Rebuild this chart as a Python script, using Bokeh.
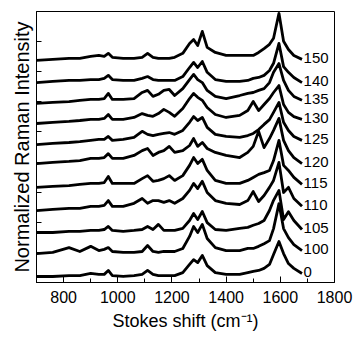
from bokeh.plotting import figure
from bokeh.models import FixedTicker, CustomJSTickFormatter
from bokeh.core.properties import value
from bokeh.embed import file_html
from bokeh.resources import INLINE

# Raman shift grid (cm^-1)
shift = [700, 760, 820, 860, 900, 930, 950, 965, 980, 1020, 1060, 1090, 1110, 1130,
         1150, 1170, 1190, 1210, 1240, 1265, 1280, 1295, 1312, 1330, 1360, 1400,
         1450, 1480, 1500, 1520, 1540, 1560, 1575, 1595, 1612, 1630, 1650, 1680]

labels = ["0", "100", "105", "110", "115", "120", "125", "130", "135", "140", "150"]

s_0 = [.20, .20, .23, .23, .30, .27, .27, .40, .23, .20, .23, .27, .40, .27, .23, .23, .23, .23, .33,
       .60, .76, .66, .90, .56, .33, .27, .27, .33, .37, .40, .47, .60, .93, 1.36, .96, .63, .47, .30]
s_100 = [.24, .28, .44, .31, .48, .34, .38, .44, .31, .28, .28, .31, .51, .31, .28, .31, .31, .31, .41,
         .81, 1.14, .94, 1.21, .74, .44, .34, .34, .41, .41, .48, .57, .67, 1.07, 1.90, 1.07, .77, .54, .34]
s_105 = [.22, .22, .26, .26, .29, .29, .32, .42, .29, .26, .29, .32, .42, .32, .49, .29, .29, .29, .36,
         .62, .85, .65, .92, .55, .32, .29, .36, .39, .46, .52, .62, .95, 1.29, 1.62, .65, .91, .62, .32]
s_110 = [.23, .27, .30, .30, .37, .37, .40, .56, .37, .37, .47, .63, .47, .56, .56, .50, .56, .47, .63,
         .90, 1.13, .96, 1.20, .83, .56, .47, .43, .56, .86, .53, .73, 1.00, 1.23, 1.83, .83, 1.00, .63, .37]
s_115 = [.28, .31, .34, .38, .41, .41, .44, .64, .41, .41, .41, .57, .67, .48, .51, .57, .67, .51, .67,
         1.01, 1.27, 1.07, 1.21, .84, .51, .41, .41, .51, .61, .71, .77, .84, 1.17, 1.84, 1.01, .84, .61, .38]
s_120 = [.35, .39, .42, .45, .52, .52, .55, .68, .52, .52, .62, .78, .85, .62, .72, .78, .92, .72, .78,
         .95, 1.18, .92, 1.05, .85, .72, .62, .55, .72, .92, 1.42, .88, 1.18, 1.45, 1.85, 1.12, .78, .55, .35]
s_125 = [.26, .30, .33, .36, .40, .43, .43, .53, .40, .43, .50, .70, .60, .56, .60, .63, .66, .60, .73,
         1.00, 1.19, 1.06, 1.16, .83, .60, .53, .50, .56, .63, .76, .93, 1.09, 1.33, 1.66, 1.00, .73, .53, .40]
s_130 = [.24, .28, .31, .34, .38, .38, .41, .54, .38, .38, .44, .57, .51, .48, .57, .71, .61, .48, .74,
         1.07, 1.24, 1.11, 1.01, .77, .54, .44, .51, .67, .97, .67, .87, 1.07, 1.27, 1.50, .87, .61, .47, .38]
s_135 = [.19, .22, .25, .29, .32, .32, .35, .52, .32, .32, .35, .55, .62, .42, .49, .62, .65, .45, .68,
         .98, 1.15, .98, .88, .62, .42, .35, .45, .52, .55, .62, .68, .88, 1.22, 1.51, .95, .62, .42, .29]
s_140 = [.16, .20, .23, .23, .26, .26, .30, .40, .26, .23, .23, .30, .36, .26, .23, .23, .23, .23, .36,
         .66, .83, .66, .86, .50, .26, .20, .20, .23, .30, .33, .40, .56, .80, 1.46, .69, .50, .33, .16]
s_150 = [.18, .21, .24, .24, .31, .34, .31, .41, .28, .24, .24, .28, .41, .28, .24, .24, .24, .28, .41,
         .74, .87, .67, 1.14, .61, .44, .34, .34, .34, .34, .44, .57, .71, .91, 1.74, .81, .54, .34, .21]

spectra = [s_0, s_100, s_105, s_110, s_115, s_120, s_125, s_130, s_135, s_140, s_150]

x_ticks = [800, 1000, 1200, 1400, 1600, 1800]
x_minor = [700, 900, 1100, 1300, 1500, 1700]
y_ticks = [0, 1, 2, 3, 4, 5, 6, 7, 8, 9]

step = 0.72
FONT = "Liberation Sans"

p = figure(width=356, height=339, x_range=(700, 1800), y_range=(0, 9),
           output_backend="svg", toolbar_location=None,
           min_border_left=36, min_border_right=22, min_border_top=11, min_border_bottom=57)
p.background_fill_color = "white"
p.border_fill_color = "white"
p.outline_line_color = "black"
p.outline_line_width = 1
p.xgrid.visible = False
p.ygrid.visible = False

lab_x, lab_y = [], []
for i, s in enumerate(spectra):
    ys = [v + step * i for v in s]
    p.line(shift, ys, line_color="black", line_width=2.8, line_join="round")
    lab_x.append(shift[-1] + 6)
    lab_y.append(ys[-1] + 0.05)

p.text(x=lab_x, y=lab_y, text=labels, text_font=value(FONT), text_font_size=value("15px"),
       text_align="left", text_baseline="middle", text_color="black")

xa = p.xaxis[0]
xa.ticker = FixedTicker(ticks=x_ticks, minor_ticks=x_minor)
xa.major_tick_in = 6
xa.major_tick_out = 0
xa.minor_tick_in = 4
xa.minor_tick_out = 0
xa.axis_line_color = "black"
xa.major_label_text_font = FONT
xa.major_label_text_font_size = "16px"
xa.major_label_text_color = "black"
xa.major_label_standoff = 8
xa.axis_label = "Stokes shift (cm\u207b\u00b9)"
xa.axis_label_text_font = FONT
xa.axis_label_text_font_size = "18px"
xa.axis_label_text_font_style = "normal"
xa.axis_label_text_color = "black"
xa.axis_label_standoff = 5

ya = p.yaxis[0]
ya.ticker = FixedTicker(ticks=y_ticks, minor_ticks=[])
ya.formatter = CustomJSTickFormatter(code="return '';")
ya.major_tick_in = 5
ya.major_tick_out = 0
ya.minor_tick_in = 0
ya.minor_tick_out = 0
ya.major_label_standoff = 0
ya.axis_label = "Normalized Raman Intensity"
ya.axis_label_text_font = FONT
ya.axis_label_text_font_size = "20px"
ya.axis_label_text_font_style = "normal"
ya.axis_label_text_color = "black"
ya.axis_label_standoff = 4

open("out.html", "w").write(file_html(p, INLINE))
